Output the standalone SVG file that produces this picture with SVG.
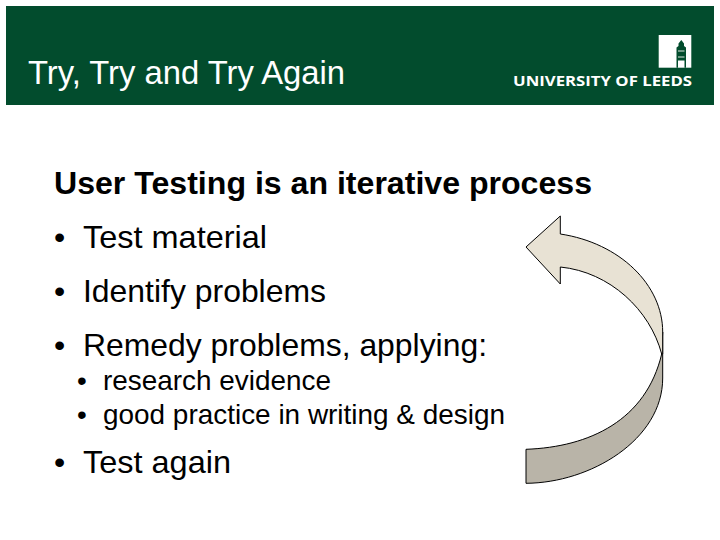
<svg xmlns="http://www.w3.org/2000/svg" width="720" height="540" viewBox="0 0 720 540">
<style>
text{font-family:"Liberation Sans",Arial,sans-serif;fill:#000}
.l1{font-size:32px}
.l2{font-size:27.9px}
.c{stroke:#000;stroke-width:1;stroke-linejoin:miter}
</style>
<rect width="720" height="540" fill="#fff"/>
<g id="header">
<rect x="6" y="6" width="708" height="99" fill="#024c2d"/>
<text x="28" y="84" textLength="317" style="font-size:32.8px;fill:#fff">Try, Try and Try Again</text>
</g>
<g id="logo">
<rect x="658.7" y="35" width="32.6" height="32.7" fill="#fff"/>
<path d="M676.5 67.7V47.5L678.5 46V43.5L681.3 40 684 43.5V46L686 47.5V67.7H684.5V60.5H678V67.7Z" fill="#024c2d"/>
<path d="M678 51h6.500M678 57h6.500" stroke="#dfe8e2" stroke-width="1" fill="none"/>
<text x="513" y="85.7" textLength="179" lengthAdjust="spacingAndGlyphs" style="font-family:'Open Sans','Noto Sans',sans-serif;font-weight:700;font-size:15px;fill:#fff">UNIVERSITY OF LEEDS</text>
</g>
<g id="content">
<text x="54" y="194" class="l1" textLength="538" lengthAdjust="spacingAndGlyphs" style="font-weight:700">User Testing is an iterative process</text>
<text x="54" y="248" class="l1">•</text><text x="83" y="248" class="l1" textLength="184" lengthAdjust="spacingAndGlyphs">Test material</text>
<text x="54" y="302" class="l1">•</text><text x="83" y="302" class="l1" textLength="243" lengthAdjust="spacingAndGlyphs">Identify problems</text>
<text x="54" y="356" class="l1">•</text><text x="83" y="356" class="l1" textLength="404" lengthAdjust="spacingAndGlyphs">Remedy problems, applying:</text>
<text x="77" y="390" class="l2">•</text><text x="103" y="390" class="l2" textLength="228" lengthAdjust="spacingAndGlyphs">research evidence</text>
<text x="77" y="424" class="l2">•</text><text x="103" y="424" class="l2" textLength="402" lengthAdjust="spacingAndGlyphs">good practice in writing &amp; design</text>
<text x="54" y="473" class="l1">•</text><text x="83" y="473" class="l1" textLength="148" lengthAdjust="spacingAndGlyphs">Test again</text>
</g>
<g id="arrow">
<path class="c" fill="#b9b4a8" d="M526 449.3C590 447 646 420 661.7 354L662.7 332V378C662.7 440 590 483 526 483.3Z"/>
<path class="c" fill="#e8e2d4" d="M526 247L560.3 216V234C620 243 662.7 285 662.7 332V354L661.7 354C650 310 610 272 560.3 267V284Z"/>
</g>
</svg>
